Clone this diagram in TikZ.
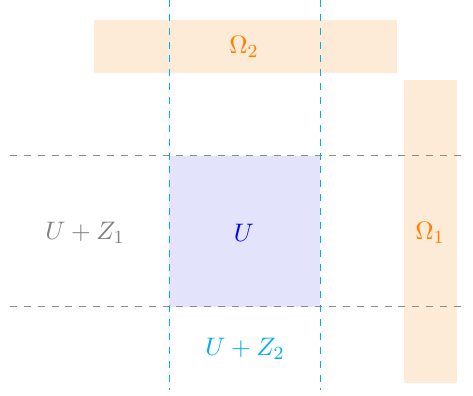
\documentclass[tikz,border=0pt]{standalone}
\usepackage{xcolor}
\definecolor{cyanK}{HTML}{00AEEF}
\definecolor{orangeT}{HTML}{FF8000}
\definecolor{orangeF}{HTML}{FDEBD8}
\definecolor{blueF}{HTML}{E3E3FC}
\definecolor{grayL}{HTML}{8C8C8C}
\begin{document}
\begin{tikzpicture}[x=0.4325pt,y=-0.4325pt,
  region/.style={fill=orangeF,draw=none},
  sqr/.style={fill=blueF,draw=none},
  guideH/.style={grayL,dashed,line width=0.45pt},
  guideV/.style={cyanK,dashed,line width=0.45pt},
  lbl/.style={inner sep=0pt,font=\fontsize{11.1}{13.3}\selectfont}]
\useasboundingbox (0,0) rectangle (473,396);
% fills
\fill[region] (94,20) rectangle (397,72.5);
\fill[region] (404,80) rectangle (457,382.5);
\fill[sqr] (169.5,155.5) rectangle (320.5,306.5);
% guide end points
\coordinate (h1a) at (10,155.5);
\coordinate (h1b) at (466,155.5);
\coordinate (h2a) at (10,306.5);
\coordinate (h2b) at (466,306.5);
\coordinate (v1a) at (169.5,0);
\coordinate (v1b) at (169.5,390);
\coordinate (v2a) at (320.5,0);
\coordinate (v2b) at (320.5,390);
\draw[guideH] (h1a) -- (h1b);
\draw[guideH] (h2a) -- (h2b);
\draw[guideV] (v1a) -- (v1b);
\draw[guideV] (v2a) -- (v2b);
% labels
\node[lbl,text=orangeT] (om2) at (244,47) {$\Omega_2$};
\node[lbl,text=orangeT] (om1) at (430,233) {$\Omega_1$};
\node[lbl,text=blue] (u) at (244,233) {$U$};
\node[lbl,text=gray] (uz1) at (85,233) {$U+Z_1$};
\node[lbl,text=cyanK] (uz2) at (245,349) {$U+Z_2$};
\end{tikzpicture}
\end{document}
